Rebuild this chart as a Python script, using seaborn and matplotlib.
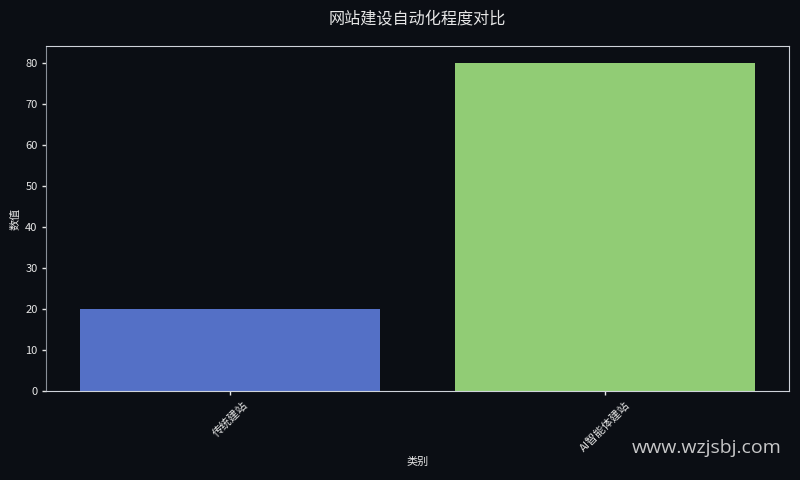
import matplotlib
matplotlib.use("Agg")
import matplotlib.pyplot as plt
import seaborn as sns
import pandas as pd

categories = ["传统建站", "AI智能体建站"]
values = [20, 80]
colors = ["#5470c6", "#91cc75"]
title = "网站建设自动化程度对比"
xlabel = "类别"
ylabel = "数值"
watermark = "www.wzjsbj.com"

bg = "#0b0e14"
fg = "#e6e6e6"

sns.set_theme(style="dark")
plt.rcParams['font.family'] = ['Noto Sans CJK SC', 'DejaVu Sans']
plt.rcParams['axes.unicode_minus'] = False

fig = plt.figure(figsize=(10, 6), dpi=80, facecolor=bg)
ax = fig.add_axes([0.0575, 0.185, 0.9285, 0.719])
ax.set_facecolor(bg)

df = pd.DataFrame({"cat": categories, "val": values})
sns.barplot(data=df, x="cat", y="val", hue="cat", palette=colors,
            legend=False, ax=ax, saturation=1, width=0.8, linewidth=0)
ax.set_xlim(-0.49, 1.49)

ax.set_title(title, color=fg, fontsize=14.5, pad=20)
ax.set_xlabel(xlabel, color=fg, fontsize=10, labelpad=3)
ax.set_ylabel(ylabel, color=fg, fontsize=10)
ax.tick_params(colors=fg, labelsize=10, length=4, bottom=True, left=True)
for lab in ax.get_xticklabels():
    lab.set_rotation(45)
for name, sp in ax.spines.items():
    sp.set_visible(True)
    sp.set_color("#cfd3da")
    sp.set_linewidth(1)
ax.spines["left"].set_color("#8a8f98")
ax.grid(False)

fig.text(0.977, 0.066, watermark, ha="right", va="center",
         fontsize=17.5, color="#e8e8e8", alpha=0.85, family=["Open Sans", "DejaVu Sans"])

fig.savefig("out.png", dpi=80, facecolor=bg)
